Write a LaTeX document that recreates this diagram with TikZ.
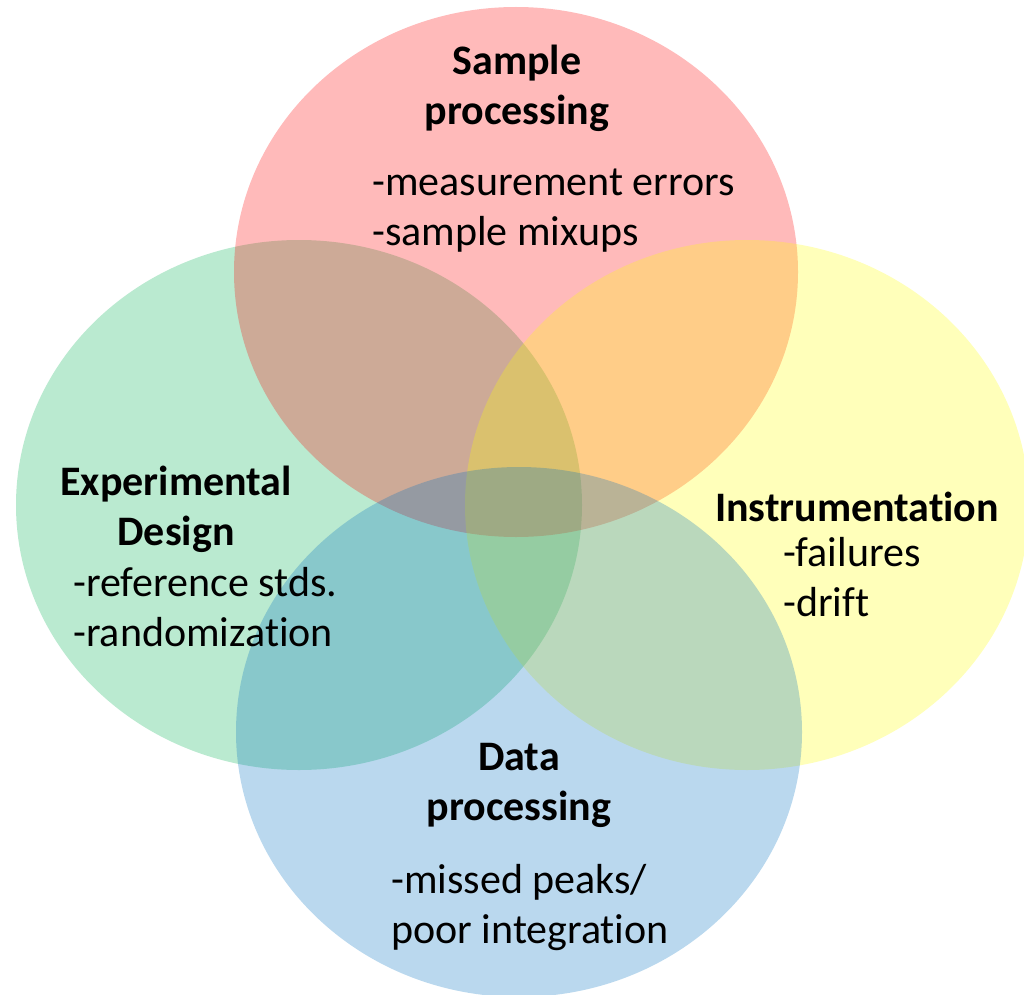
\documentclass[tikz,border=0pt]{standalone}
\usepackage{fontspec}
\setmainfont{Carlito}[Ligatures={NoCommon, NoContextual}]
\usepackage{tikz}
\usetikzlibrary{positioning}
\definecolor{samplered}{RGB}{255, 0, 0}
\definecolor{designgreen}{RGB}{0, 176, 80}
\definecolor{instryellow}{RGB}{255, 255, 0}
\definecolor{datablue}{RGB}{0, 112, 192}
\tikzset{
	venn/.style={fill opacity=0.27},
	title/.style={font=\fontsize{31.5}{37.5}\selectfont\bfseries, align=center, inner sep=0pt},
	items/.style={font=\fontsize{31.5}{37.5}\selectfont, align=left, anchor=west, inner sep=0pt}
}

\begin{document}
\begin{tikzpicture}[x=0.75pt, y=-0.75pt]
		\useasboundingbox (0,0) rectangle (1024,995);
		\fill[venn, designgreen] (299,505) ellipse [x radius=283, y radius=265];
		\fill[venn, samplered]   (516,272) ellipse [x radius=282, y radius=265];
		\fill[venn, instryellow] (747,505) ellipse [x radius=282, y radius=265];
		\fill[venn, datablue]    (519,732) ellipse [x radius=283, y radius=265];
		\node[title] (sample) at (517,88) {Sample\\processing};
		\node[items] (samplelist) at (372,211) {-measurement errors\\-sample mixups};
		\node[title] (design) at (176,509) {Experimental\\Design};
		\node[items] (designlist) at (73,607) {-reference stds.\\-randomization};
		\node[title] (instr) at (857,507) {Instrumentation};
		\node[items] (instrlist) at (783,577) {-failures\\-drift};
		\node[title] (data) at (519,785) {Data\\processing};
		\node[items] (datalist) at (391,908) {-missed peaks/\\poor integration};
		\end{tikzpicture}
\end{document}
